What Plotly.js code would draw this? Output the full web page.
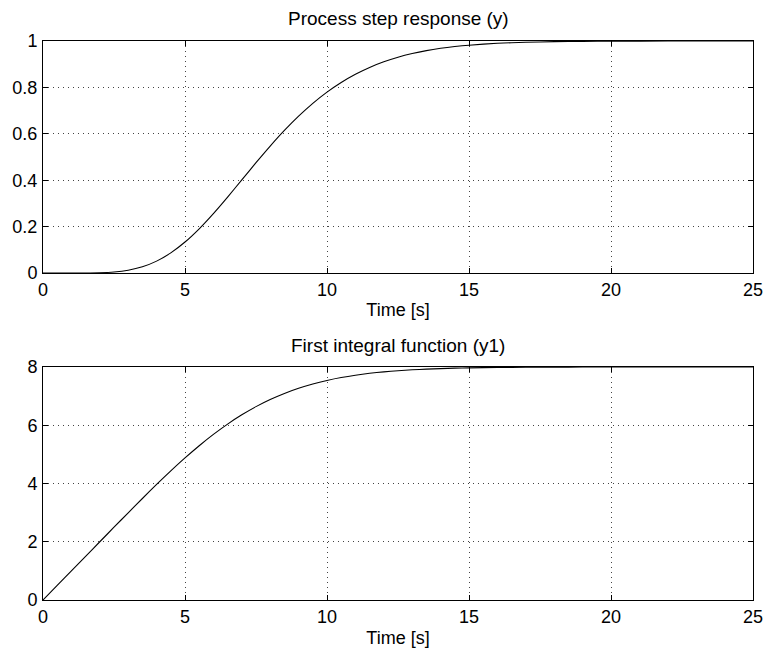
<!DOCTYPE html>
<html>
<head>
<meta charset="utf-8">
<script src="https://cdn.plot.ly/plotly-3.0.1.min.js"></script>
<style>
  html, body { margin: 0; padding: 0; background: #ffffff; }
  #chart { width: 764px; height: 648px; }
</style>
</head>
<body>
<div id="chart"></div>
<script>
// Sample times [s]
const time = [0, 0.5, 1, 1.5, 2, 2.5, 3, 3.5, 4, 4.5, 5, 5.5, 6, 6.5, 7, 7.5,
  8, 8.5, 9, 9.5, 10, 10.5, 11, 11.5, 12, 12.5, 13, 13.5, 14, 14.5, 15,
  16, 17, 18, 19, 20, 22, 25];

// Process step response y(t)
const stepResponse = [0, 0, 0.00001, 0.0002, 0.0011, 0.0042, 0.0119, 0.0267,
  0.0511, 0.0866, 0.1334, 0.1905, 0.2560, 0.3272, 0.4013, 0.4754,
  0.5470, 0.6144, 0.6759, 0.7313, 0.7798, 0.8215, 0.8568, 0.8863,
  0.9105, 0.9302, 0.9460, 0.9585, 0.9684, 0.9761, 0.9820,
  0.9900, 0.9946, 0.9971, 0.9985, 0.9992, 0.9998, 1.0];

// First integral function y1(t)
const firstIntegral = [0, 0.5, 1.0, 1.5, 1.9997, 2.4985, 2.9947, 3.4854,
  3.9664, 4.4324, 4.8779, 5.2973, 5.6860, 6.0403, 6.3583, 6.6391,
  6.8833, 7.0927, 7.2699, 7.4177, 7.5396, 7.6391, 7.7192, 7.7832,
  7.8338, 7.8735, 7.9043, 7.9281, 7.9462, 7.9600, 7.9705,
  7.9841, 7.9916, 7.9956, 7.9978, 7.9989, 7.9998, 8.0];

const xTicks = [0, 5, 10, 15, 20, 25];
const yTicksTop = [0, 0.2, 0.4, 0.6, 0.8, 1];
const yTickTextTop = ['0', '0.2', '0.4', '0.6', '0.8', '1'];
const yTicksBottom = [0, 2, 4, 6, 8];

const titleTop = 'Process step response (y)';
const titleBottom = 'First integral function (y1)';
const xLabel = 'Time [s]';

const FONT = '"Liberation Sans", Arial, Helvetica, sans-serif';

const traces = [
  {
    x: time, y: stepResponse, xaxis: 'x', yaxis: 'y',
    type: 'scatter', mode: 'lines',
    line: { color: '#000000', width: 1.1, shape: 'spline', smoothing: 0.6 },
    hoverinfo: 'skip', showlegend: false
  },
  {
    x: time, y: firstIntegral, xaxis: 'x2', yaxis: 'y2',
    type: 'scatter', mode: 'lines',
    line: { color: '#000000', width: 1.1, shape: 'spline', smoothing: 0.6 },
    hoverinfo: 'skip', showlegend: false
  }
];

function xAxis(anchor, standoff) {
  return {
    anchor: anchor,
    domain: [0, 1],
    range: [0, 25],
    tickvals: xTicks,
    ticktext: xTicks.map(String),
    ticks: 'inside', ticklen: 5, tickwidth: 1, tickcolor: '#000',
    showline: true, linecolor: '#000', linewidth: 1, mirror: 'ticks',
    showgrid: true, gridcolor: '#444', gridwidth: 1, griddash: '1px,4px',
    zeroline: false,
    tickfont: { family: FONT, size: 18, color: '#000' },
    ticklabelstandoff: 0,
    title: { text: xLabel, font: { family: FONT, size: 18, color: '#000' }, standoff: standoff }
  };
}

function yAxis(anchor, domain, range, vals, text) {
  return {
    anchor: anchor,
    domain: domain,
    range: range,
    tickvals: vals,
    ticktext: text,
    ticks: 'inside', ticklen: 5, tickwidth: 1, tickcolor: '#000',
    showline: true, linecolor: '#000', linewidth: 1, mirror: 'ticks',
    showgrid: true, gridcolor: '#444', gridwidth: 1, griddash: '1px,4px',
    zeroline: false,
    tickfont: { family: FONT, size: 18, color: '#000' },
    ticklabelstandoff: 1
  };
}

const layout = {
  width: 764, height: 648,
  margin: { l: 43, r: 11, t: 41, b: 48 },
  paper_bgcolor: '#ffffff', plot_bgcolor: '#ffffff',
  showlegend: false,
  xaxis: xAxis('y', 4),
  yaxis: yAxis('x', [0.585, 1], [0, 1], yTicksTop, yTickTextTop),
  xaxis2: xAxis('y2', 6),
  yaxis2: yAxis('x2', [0, 0.4168], [0, 8], yTicksBottom, yTicksBottom.map(String)),
  annotations: [
    { text: titleTop, xref: 'paper', yref: 'paper', x: 0.5, y: 1.0394,
      xanchor: 'center', yanchor: 'middle', showarrow: false,
      font: { family: FONT, size: 19, color: '#000' } },
    { text: titleBottom, xref: 'paper', yref: 'paper', x: 0.5, y: 0.456,
      xanchor: 'center', yanchor: 'middle', showarrow: false,
      font: { family: FONT, size: 19, color: '#000' } }
  ]
};

Plotly.newPlot('chart', traces, layout, { displayModeBar: false, staticPlot: true });
</script>
</body>
</html>
